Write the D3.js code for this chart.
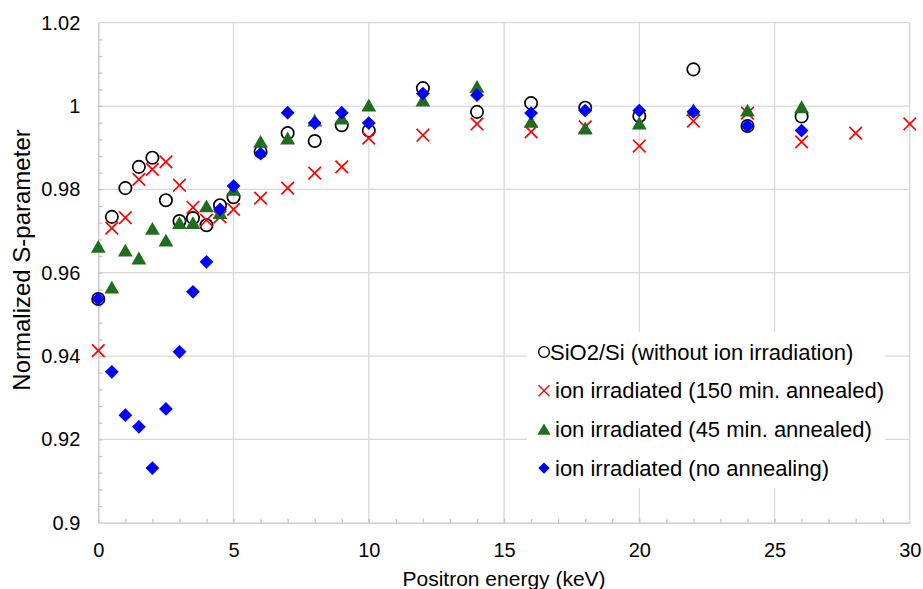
<!DOCTYPE html>
<html>
<head>
<meta charset="utf-8">
<script src="https://cdn.jsdelivr.net/npm/d3@7"></script>
<style>
  html, body { margin: 0; padding: 0; background: #fff; }
  svg { display: block; font-family: "Liberation Sans", Arial, sans-serif; }
</style>
</head>
<body>
<div id="chart"></div>
<script>
// energies (keV) shared by the first, third and fourth series
const energy = [0, 0.5, 1, 1.5, 2, 2.5, 3, 3.5, 4, 4.5, 5, 6, 7, 8, 9, 10, 12, 14, 16, 18, 20, 22, 24, 26]
// the 150 min. annealed run goes out to 30 keV
const energy150 = [0, 0.5, 1, 1.5, 2, 2.5, 3, 3.5, 4, 4.5, 5, 6, 7, 8, 9, 10, 12, 14, 16, 18, 20, 22, 24, 26, 28, 30]

const sio2 = [0.9537, 0.9734, 0.9803, 0.9854, 0.9876, 0.9774, 0.9724, 0.9731, 0.9714, 0.9762, 0.9781, 0.9890,
  0.9935, 0.9916, 0.9954, 0.9941, 1.0043, 0.9986, 1.0007, 0.9996, 0.9976, 1.0088, 0.9952, 0.9975]
const annealed150 = [0.9413, 0.9707, 0.9732, 0.9824, 0.9848, 0.9866, 0.9810, 0.9757, 0.9726, 0.9734, 0.9752, 0.9779,
  0.9803, 0.9839, 0.9854, 0.9923, 0.9930, 0.9957, 0.9938, 0.9950, 0.9904, 0.9964, 0.9983, 0.9914, 0.9935, 0.9957]
const annealed45 = [0.9663, 0.9565, 0.9654, 0.9635, 0.9706, 0.9678, 0.9720, 0.9720, 0.9760, 0.9744, 0.9800, 0.9915,
  0.9923, 0.9966, 0.9971, 1.0002, 1.0014, 1.0047, 0.9963, 0.9947, 0.9959, 0.9991, 0.9990, 0.9998]
const noAnnealing = [0.9537, 0.9362, 0.9258, 0.9230, 0.9131, 0.9273, 0.9410, 0.9554, 0.9626, 0.9752, 0.9808, 0.9886,
  0.9984, 0.9959, 0.9984, 0.9959, 1.0030, 1.0026, 0.9983, 0.9989, 0.9989, 0.9986, 0.9952, 0.9941]

const xTicks = [0, 5, 10, 15, 20, 25, 30]
const yTicks = [0.9, 0.92, 0.94, 0.96, 0.98, 1, 1.02]
const seriesNames = [
  "SiO2/Si (without ion irradiation)",
  "ion irradiated (150 min. annealed)",
  "ion irradiated (45 min. annealed)",
  "ion irradiated (no annealing)"
]

const width = 923, height = 589
const margin = { top: 22.7, right: 13.2, bottom: 66.3, left: 98.3 }

const svg = d3.select("#chart").append("svg")
  .attr("width", width)
  .attr("height", height)
  .attr("viewBox", [0, 0, width, height])

const x = d3.scaleLinear()
  .domain([0, 30])
  .range([margin.left, width - margin.right])

const y = d3.scaleLinear()
  .domain([0.9, 1.02])
  .range([height - margin.bottom, margin.top])

// gridlines
svg.append("g")
  .attr("stroke", "#d9d9d9")
  .attr("stroke-width", 1.3)
  .call(g => g.selectAll(".h").data(yTicks.slice(1)).join("line")
    .attr("x1", x(0)).attr("x2", x(30))
    .attr("y1", d => y(d)).attr("y2", d => y(d)))
  .call(g => g.selectAll(".v").data(xTicks.slice(1)).join("line")
    .attr("y1", y(0.9)).attr("y2", y(1.02))
    .attr("x1", d => x(d)).attr("x2", d => x(d)))

// minor ticks, pointing inward
svg.append("g")
  .attr("transform", `translate(${x(0)},0)`)
  .call(d3.axisRight(y).tickValues(d3.range(0.904, 1.02, 0.004)).tickSize(4).tickFormat(""))
  .call(g => g.select(".domain").remove())
  .call(g => g.selectAll("line").attr("stroke", "#c4c4c4").attr("stroke-width", 1.3))

svg.append("g")
  .attr("transform", `translate(0,${y(0.9)})`)
  .call(d3.axisTop(x).tickValues(d3.range(1, 30, 1)).tickSize(4).tickFormat(""))
  .call(g => g.select(".domain").remove())
  .call(g => g.selectAll("line").attr("stroke", "#c4c4c4").attr("stroke-width", 1.3))

// x-axis
svg.append("g")
  .attr("transform", `translate(0,${y(0.9)})`)
  .call(d3.axisBottom(x).tickValues(xTicks).tickSize(0).tickPadding(20).tickFormat(d3.format("d")))
  .call(g => g.select(".domain").attr("stroke", "#c4c4c4").attr("stroke-width", 1.3))
  .call(g => g.selectAll("text")
    .attr("font-family", "Liberation Sans, Arial, sans-serif")
    .attr("font-size", 20).attr("fill", "#000"))
  .call(g => g.append("text")
    .attr("x", (x(0) + x(30)) / 2)
    .attr("y", 63)
    .attr("font-size", 21)
    .attr("fill", "#000")
    .attr("text-anchor", "middle")
    .text("Positron energy (keV)"))

// y-axis
svg.append("g")
  .attr("transform", `translate(${x(0)},0)`)
  .call(d3.axisLeft(y).tickValues(yTicks).tickSize(0).tickPadding(18)
    .tickFormat(d => d3.format(".2~f")(d)))
  .call(g => g.select(".domain").attr("stroke", "#c4c4c4").attr("stroke-width", 1.3))
  .call(g => g.selectAll("text")
    .attr("font-family", "Liberation Sans, Arial, sans-serif")
    .attr("font-size", 20).attr("fill", "#000"))

svg.append("text")
  .attr("transform", `translate(30,260) rotate(-90)`)
  .attr("font-size", 24)
  .attr("text-anchor", "middle")
  .attr("fill", "#000")
  .text("Normalized S-parameter")

// markers
const circleSym = d3.symbol(d3.symbolCircle, 120)
const crossSym = d3.symbol(d3.symbolTimes, 105)
const triSym = d3.symbol(d3.symbolTriangle, 95)
const diamondSym = d3.symbol(d3.symbolSquare, 95)

const series = [
  { name: seriesNames[0], xs: energy, ys: sio2, path: circleSym, fill: "none", stroke: "#000", sw: 1.7, rot: 0, dy: 0 },
  { name: seriesNames[1], xs: energy150, ys: annealed150, path: crossSym, fill: "none", stroke: "#ff0000", sw: 1.7, rot: 0, dy: 0 },
  { name: seriesNames[2], xs: energy, ys: annealed45, path: triSym, fill: "#1e6e1e", stroke: "none", sw: 0, rot: 0, dy: 2 },
  { name: seriesNames[3], xs: energy, ys: noAnnealing, path: diamondSym, fill: "#0000ff", stroke: "none", sw: 0, rot: 45, dy: 0 }
]

series.forEach(s => {
  svg.append("g")
    .selectAll("path")
    .data(s.ys.map((v, i) => [s.xs[i], v]))
    .join("path")
      .attr("d", s.path)
      .attr("transform", d => `translate(${x(d[0])},${y(d[1]) + s.dy}) rotate(${s.rot})`)
      .attr("fill", s.fill)
      .attr("stroke", s.stroke)
      .attr("stroke-width", s.sw)
})

// legend
const legend = svg.append("g").attr("transform", "translate(527,332)")
legend.append("rect")
  .attr("width", 358).attr("height", 156)
  .attr("fill", "#fff")

const legendSyms = [
  d3.symbol(d3.symbolCircle, 90),
  d3.symbol(d3.symbolTimes, 80),
  d3.symbol(d3.symbolTriangle, 75),
  d3.symbol(d3.symbolSquare, 65)
]

const rows = legend.selectAll(".row")
  .data(series)
  .join("g")
    .attr("transform", (d, i) => `translate(0,${20 + i * 38.7})`)

rows.append("path")
  .attr("d", (d, i) => legendSyms[i]())
  .attr("transform", d => `translate(17,${d.dy * 0.8}) rotate(${d.rot})`)
  .attr("fill", d => d.fill)
  .attr("stroke", d => d.stroke)
  .attr("stroke-width", d => d.sw * 0.8)

rows.append("text")
  .attr("x", (d, i) => i === 0 ? 23 : 28)
  .attr("y", 7.5)
  .attr("font-size", 22)
  .attr("fill", "#000")
  .text(d => d.name)
</script>
</body>
</html>
